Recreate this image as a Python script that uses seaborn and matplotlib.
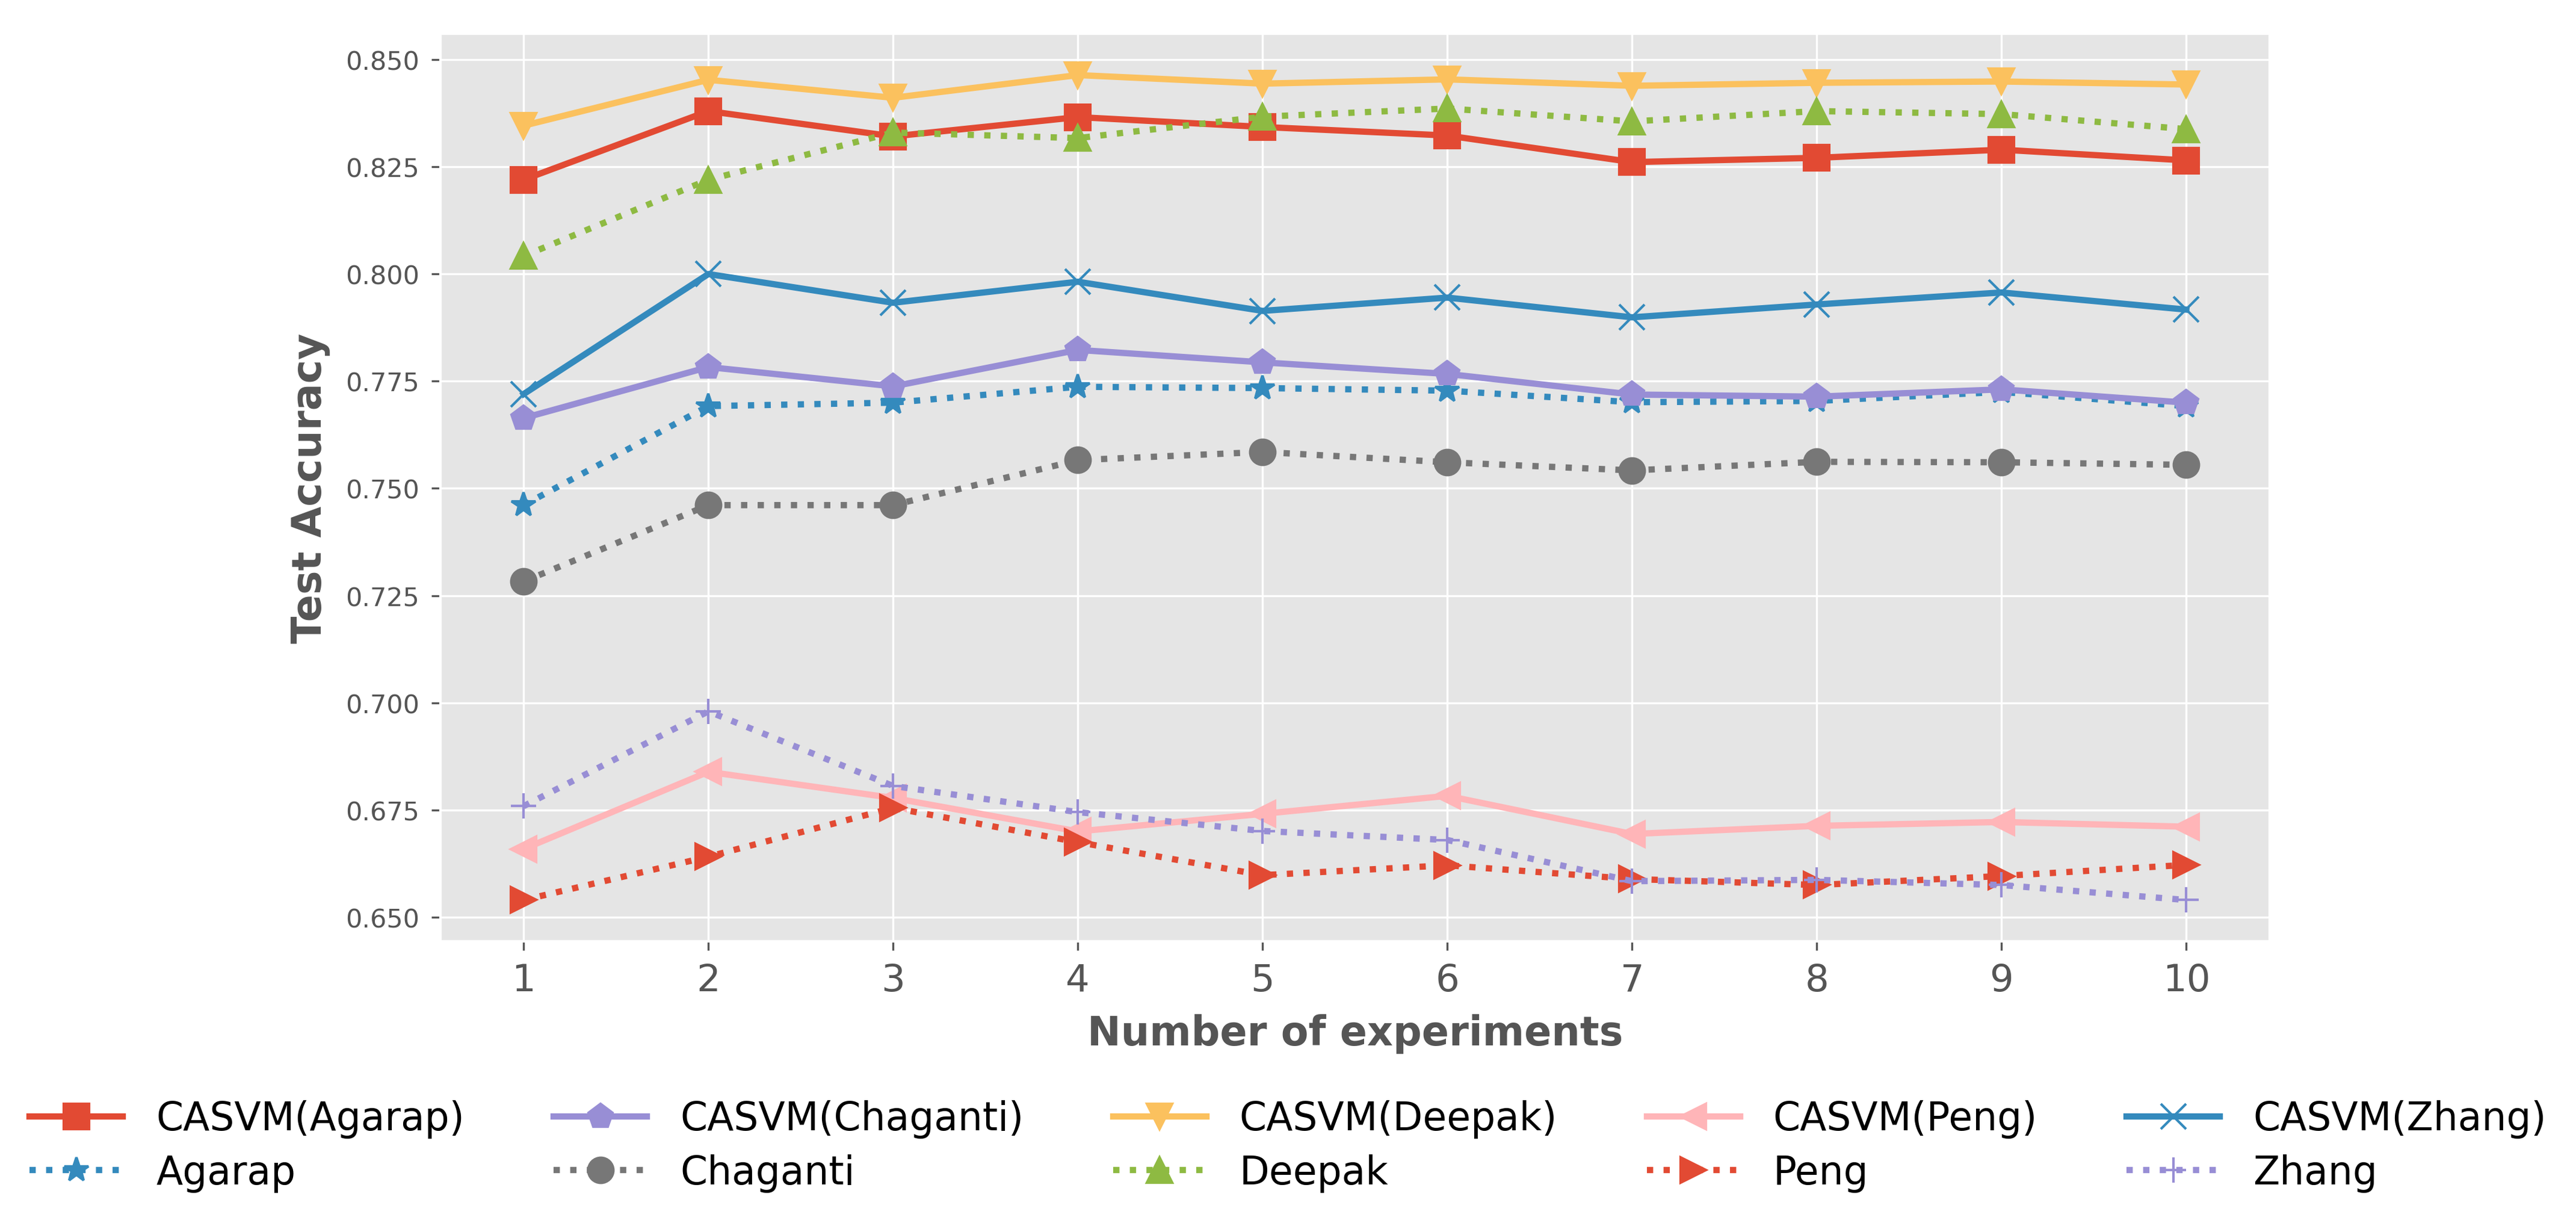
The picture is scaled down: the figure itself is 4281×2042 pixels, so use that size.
import matplotlib
matplotlib.use('Agg')
import matplotlib.pyplot as plt
import seaborn as sns
import pandas as pd

experiments = [1, 2, 3, 4, 5, 6, 7, 8, 9, 10]

casvm_agarap = [0.8220, 0.8380, 0.8321, 0.8366, 0.8343, 0.8323, 0.8261, 0.8271, 0.8290, 0.8265]
agarap = [0.7461, 0.7692, 0.7700, 0.7737, 0.7734, 0.7728, 0.7701, 0.7704, 0.7725, 0.7692]
casvm_chaganti = [0.7664, 0.7783, 0.7738, 0.7823, 0.7794, 0.7767, 0.7719, 0.7714, 0.7731, 0.7700]
chaganti = [0.7283, 0.7461, 0.7461, 0.7566, 0.7585, 0.7561, 0.7542, 0.7562, 0.7561, 0.7555]
casvm_deepak = [0.8346, 0.8453, 0.8411, 0.8464, 0.8444, 0.8454, 0.8439, 0.8446, 0.8449, 0.8442]
deepak = [0.8042, 0.8220, 0.8330, 0.8317, 0.8367, 0.8386, 0.8356, 0.8380, 0.8373, 0.8338]
casvm_peng = [0.6659, 0.6839, 0.6778, 0.6700, 0.6741, 0.6783, 0.6694, 0.6713, 0.6722, 0.6711]
peng = [0.6540, 0.6641, 0.6755, 0.6675, 0.6598, 0.6621, 0.6589, 0.6575, 0.6596, 0.6622]
casvm_zhang = [0.7720, 0.8000, 0.7933, 0.7982, 0.7914, 0.7945, 0.7899, 0.7929, 0.7957, 0.7917]
zhang = [0.6759, 0.6980, 0.6806, 0.6745, 0.6701, 0.6680, 0.6584, 0.6587, 0.6575, 0.6540]

plt.style.use('ggplot')

# (label, values, colour, linestyle, marker)
series = [
    ('CASVM(Agarap)', casvm_agarap, '#E24A33', '-', 's'),
    ('Agarap', agarap, '#348ABD', ':', '*'),
    ('CASVM(Chaganti)', casvm_chaganti, '#988ED5', '-', 'p'),
    ('Chaganti', chaganti, '#777777', ':', 'o'),
    ('CASVM(Deepak)', casvm_deepak, '#FBC15E', '-', 'v'),
    ('Deepak', deepak, '#8EBA42', ':', '^'),
    ('CASVM(Peng)', casvm_peng, '#FFB5B8', '-', '<'),
    ('Peng', peng, '#E24A33', ':', '>'),
    ('CASVM(Zhang)', casvm_zhang, '#348ABD', '-', 'x'),
    ('Zhang', zhang, '#988ED5', ':', '+'),
]

fig = plt.figure(figsize=(4281 / 300, 2043 / 300), dpi=300)
ax = fig.add_axes([0.171, 0.234, 0.710, 0.738])

for name, vals, color, ls, mk in series:
    df = pd.DataFrame({'exp': experiments, 'acc': vals})
    sns.lineplot(data=df, x='exp', y='acc', ax=ax, color=color, linestyle=ls,
                 marker=mk, markersize=10, linewidth=2.5, label=name,
                 markeredgecolor=color, markeredgewidth=1.0)

if ax.get_legend() is not None:
    ax.get_legend().remove()

ax.set_xticks(experiments)
ax.set_yticks([0.650, 0.675, 0.700, 0.725, 0.750, 0.775, 0.800, 0.825, 0.850])
ax.yaxis.set_major_formatter(matplotlib.ticker.FormatStrFormatter('%.3f'))
ax.tick_params(axis='x', labelsize=15, pad=5)
ax.tick_params(axis='y', labelsize=10.3, pad=5)
ax.set_xlabel('Number of experiments', fontsize=16, fontweight='bold', labelpad=6)
ax.set_ylabel('Test Accuracy', fontsize=16, fontweight='bold', labelpad=6)

handles, labels = ax.get_legend_handles_labels()
fig.legend(handles, labels, loc='center', bbox_to_anchor=(0.5, 0.0675), ncol=5,
           frameon=False, fontsize=15.5, handlelength=2.4, handletextpad=0.85,
           columnspacing=2.3, labelspacing=0.4)

fig.savefig('out.png', dpi=300)
